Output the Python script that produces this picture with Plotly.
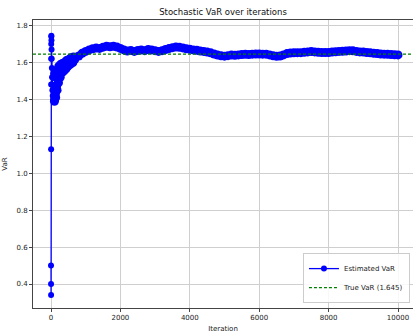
import plotly.graph_objects as go

# ---- data ----
iterations_early = [0, 1, 2, 3, 4, 5, 6, 8, 10, 13, 16, 20, 25, 30, 35, 40, 50, 60, 70, 80, 90]
var_early = [0.50, 0.40, 0.34, 1.13, 1.48, 1.62, 1.70, 1.74, 1.745, 1.72, 1.67, 1.62, 1.57, 1.52,
             1.48, 1.45, 1.42, 1.40, 1.39, 1.395, 1.40]

iterations_ramp = [100, 105, 115, 125, 135, 145, 160, 175, 185, 200, 215, 225, 245, 265, 280, 300,
                   320, 335, 355, 375, 390, 410, 430, 445, 470, 490, 505, 530, 555, 570, 600, 630,
                   650, 680]
var_ramp = [1.39, 1.54, 1.47, 1.43, 1.41, 1.52, 1.47, 1.45, 1.56, 1.51, 1.49, 1.58, 1.54, 1.52,
            1.59, 1.56, 1.545, 1.595, 1.57, 1.555, 1.60, 1.58, 1.565, 1.61, 1.59, 1.58, 1.615,
            1.60, 1.59, 1.625, 1.61, 1.60, 1.63, 1.615]

iterations_main = list(range(700, 10001, 100))
var_main = [1.625, 1.635, 1.650, 1.660, 1.668, 1.674, 1.678, 1.676, 1.683, 1.688,
            1.685, 1.688, 1.684, 1.676, 1.668, 1.662, 1.665, 1.660, 1.665, 1.668,
            1.664, 1.670, 1.668, 1.664, 1.660, 1.664, 1.670, 1.675, 1.680, 1.684,
            1.682, 1.679, 1.674, 1.671, 1.668, 1.666, 1.662, 1.660, 1.656, 1.652,
            1.646, 1.640, 1.636, 1.634, 1.637, 1.640, 1.639, 1.641, 1.643, 1.644,
            1.643, 1.645, 1.646, 1.646, 1.645, 1.645, 1.641, 1.636, 1.633, 1.635,
            1.641, 1.648, 1.651, 1.652, 1.653, 1.653, 1.655, 1.657, 1.659, 1.657,
            1.655, 1.654, 1.654, 1.654, 1.656, 1.658, 1.660, 1.661, 1.662, 1.664,
            1.663, 1.660, 1.657, 1.656, 1.654, 1.652, 1.650, 1.648, 1.646, 1.645,
            1.644, 1.643, 1.642, 1.641]

true_var = 1.645
x_range = [-519, 10432]
y_range = [0.27, 1.83]
x_ticks = [0, 2000, 4000, 6000, 8000, 10000]
y_ticks = [0.4, 0.6, 0.8, 1.0, 1.2, 1.4, 1.6, 1.8]

iters = iterations_early + iterations_ramp + iterations_main
vals = var_early + var_ramp + var_main
sizes = [6] * len(iterations_early) + [9] * (len(iterations_ramp) + len(iterations_main))

BLUE = "#0000ff"
GREEN = "#008000"
font = "DejaVu Sans"
fig = go.Figure()
fig.add_trace(go.Scatter(
    x=iters, y=vals, mode="lines+markers", name="Estimated VaR", showlegend=False,
    line=dict(color=BLUE, width=1.3),
    marker=dict(color=BLUE, size=sizes, opacity=1, line=dict(width=0)),
))
# legend entry for the estimate (normal marker size)
fig.add_trace(go.Scatter(
    x=[None], y=[None], mode="lines+markers", name="Estimated VaR",
    line=dict(color=BLUE, width=1.3),
    marker=dict(color=BLUE, size=6, line=dict(width=0)),
))
fig.add_trace(go.Scatter(
    x=x_range, y=[true_var, true_var], mode="lines", name=f"True VaR ({true_var})",
    line=dict(color=GREEN, width=1.3, dash="3px,2px"),
))

axis_common = dict(
    showgrid=True, gridcolor="#cfcfcf", gridwidth=1,
    showline=True, linecolor="#444444", linewidth=1, mirror=True,
    ticks="outside", ticklen=3, tickcolor="#444444",
    zeroline=False, tickfont=dict(family=font, size=7, color="#222222"),
)
fig.update_xaxes(range=x_range, tickvals=x_ticks, tickformat="d",
                 title=dict(text="Iteration", font=dict(family=font, size=7, color="#222222"), standoff=4),
                 **axis_common)
fig.update_yaxes(range=y_range, tickvals=y_ticks, tickformat=".1f",
                 title=dict(text="VaR", font=dict(family=font, size=7, color="#222222"), standoff=8),
                 **axis_common)

fig.update_layout(
    width=413, height=334,
    margin=dict(l=33, r=0, t=20, b=26),
    paper_bgcolor="white", plot_bgcolor="white",
    title=dict(text="Stochastic VaR over iterations", x=0.54, xanchor="center", y=0.965, yanchor="middle",
               font=dict(family=font, size=8.5, color="#111111")),
    legend=dict(x=0.992, y=0.017, xanchor="right", yanchor="bottom",
                bgcolor="rgba(255,255,255,0.85)", bordercolor="#cccccc", borderwidth=1,
                font=dict(family=font, size=7, color="#222222"),
                itemwidth=30),
    showlegend=True,
)

fig.write_html("out.html")
